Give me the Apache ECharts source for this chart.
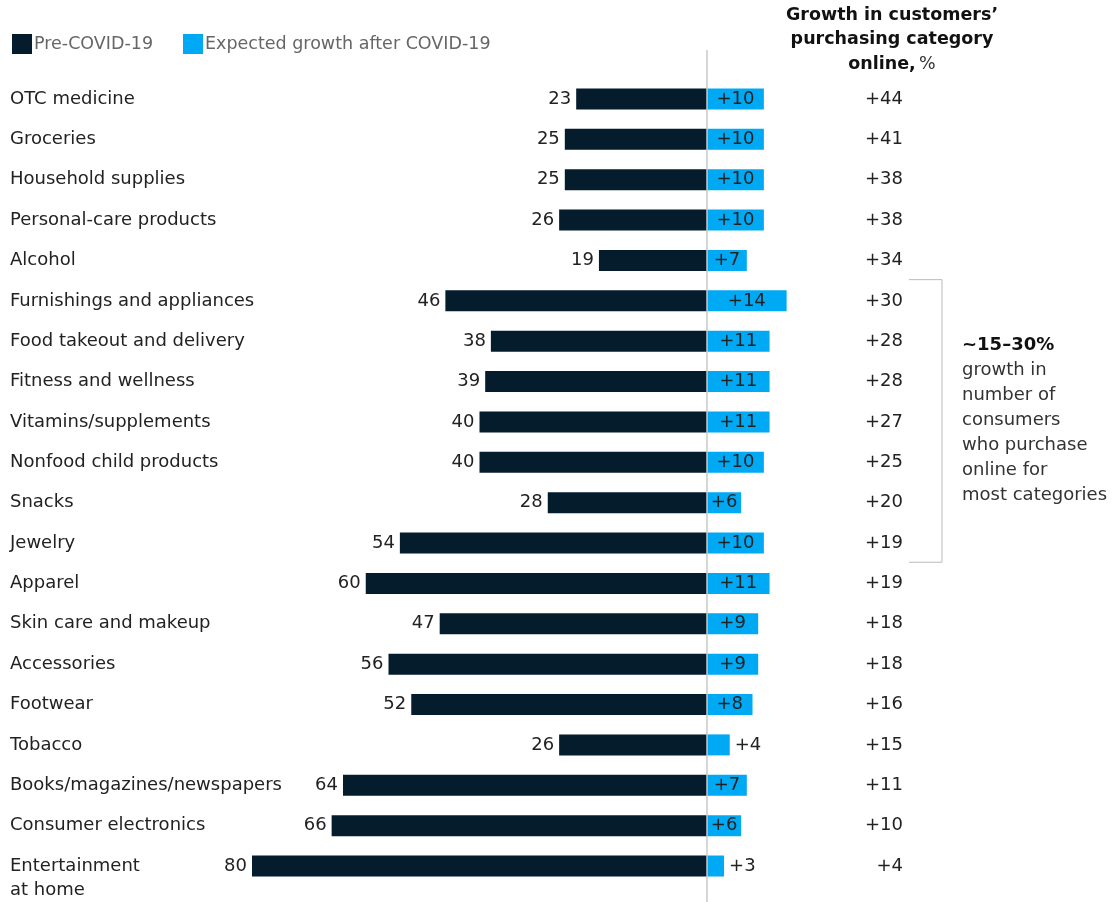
<!DOCTYPE html>
<html>
<head>
<meta charset="utf-8">
<script src="https://cdn.jsdelivr.net/npm/echarts@6/dist/echarts.min.js"></script>
<style>
  html, body { margin: 0; padding: 0; background: #fff; }
  #chart { width: 1119px; height: 902px; }
</style>
</head>
<body>
<div id="chart"></div>
<script>
// Share of customers buying each category online
const categories = [
  'OTC medicine', 'Groceries', 'Household supplies', 'Personal-care products',
  'Alcohol', 'Furnishings and appliances', 'Food takeout and delivery',
  'Fitness and wellness', 'Vitamins/supplements', 'Nonfood child products',
  'Snacks', 'Jewelry', 'Apparel', 'Skin care and makeup', 'Accessories',
  'Footwear', 'Tobacco', 'Books/magazines/newspapers', 'Consumer electronics',
  'Entertainment\nat home'
];
const preCovid = [23, 25, 25, 26, 19, 46, 38, 39, 40, 40, 28, 54, 60, 47, 56, 52, 26, 64, 66, 80];
const expectedGrowth = [10, 10, 10, 10, 7, 14, 11, 11, 11, 10, 6, 10, 11, 9, 9, 8, 4, 7, 6, 3];
const onlineGrowth = [44, 41, 38, 38, 34, 30, 28, 28, 27, 25, 20, 19, 19, 18, 18, 16, 15, 11, 10, 4];

const seriesNames = ['Pre-COVID-19', 'Expected growth after COVID-19'];
const bracketFrom = 'Furnishings and appliances';
const bracketTo = 'Jewelry';

const NAVY = '#051C2C';
const BLUE = '#00A9F4';
const FONT = '"DejaVu Sans", "Liberation Sans", Arial, sans-serif';
const TEXT = '#222';

const chart = echarts.init(document.getElementById('chart'), null, { renderer: 'canvas' });

const option = {
  animation: false,
  backgroundColor: '#fff',
  legend: {
    left: 7, top: 29,
    itemWidth: 20, itemHeight: 20, itemGap: 30,
    icon: 'rect',
    textStyle: { color: '#666', fontSize: 17.5, fontFamily: FONT, padding: [0, 0, 0, -3] },
    data: seriesNames
  },
  grid: {
    left: 252, top: 78.8, width: 637, height: 807.4,
    containLabel: false, outerBoundsMode: 'none'
  },
  xAxis: {
    type: 'value', min: -80, max: 32,
    show: false
  },
  yAxis: [
    {
      type: 'category', inverse: true, data: categories,
      axisLine: { show: false, onZero: false }, axisTick: { show: false },
      axisLabel: {
        interval: 0, hideOverlap: false,
        align: 'left', margin: 242, fontSize: 18, color: TEXT, fontFamily: FONT,
        lineHeight: 24,
        // two-line names keep their first line level with the bar
        formatter: v => v.indexOf('\n') >= 0 ? ' \n' + v : v
      }
    },
    {
      type: 'category', inverse: true, position: 'right', data: categories,
      axisLine: { show: false, onZero: false }, axisTick: { show: false },
      axisLabel: {
        interval: 0,
        align: 'right', margin: 14, fontSize: 18, color: TEXT, fontFamily: FONT,
        formatter: (v, i) => '+' + onlineGrowth[i]
      }
    }
  ],
  series: [
    {
      name: seriesNames[0], type: 'bar', barWidth: 21, barGap: '-100%',
      itemStyle: { color: NAVY },
      data: preCovid.map(v => -v),
      label: {
        show: true, position: 'left', distance: 5, fontSize: 18, color: TEXT,
        fontFamily: FONT, formatter: p => String(-p.value)
      }
    },
    {
      name: seriesNames[1], type: 'bar', barWidth: 21,
      itemStyle: { color: BLUE },
      data: expectedGrowth.map(v => ({
        value: v,
        label: v <= 4 ? { position: 'right', distance: 5 } : { position: 'inside' }
      })),
      label: {
        show: true, fontSize: 18, color: TEXT, fontFamily: FONT,
        formatter: p => '+' + p.value
      }
    }
  ]
};
chart.setOption(option);

// Overlay: centre axis line, column header, bracket and its note
const zeroX = chart.convertToPixel({ xAxisIndex: 0 }, 0);
const rowStep = chart.convertToPixel({ yAxisIndex: 0 }, categories[1]) -
                chart.convertToPixel({ yAxisIndex: 0 }, categories[0]);
const yFrom = chart.convertToPixel({ yAxisIndex: 0 }, bracketFrom) - rowStep / 2 - 1;
const yTo = chart.convertToPixel({ yAxisIndex: 0 }, bracketTo) + rowStep / 2 - 1;
const bx = 942, bLeft = 909;

chart.setOption({
  graphic: [
    {
      type: 'line', z: 10, silent: true,
      shape: { x1: zeroX, y1: 50, x2: zeroX, y2: 902 },
      style: { stroke: '#c8c8c8', lineWidth: 1.5 }
    },
    {
      type: 'text', silent: true,
      style: {
        x: 892, y: 3, align: 'center', verticalAlign: 'top',
        text: '{b|Growth in customers’}\n{b|purchasing category}\n{b|online,} {r|%}',
        rich: {
          b: { fontSize: 17.5, fontWeight: 'bold', fontFamily: FONT, fill: '#111', lineHeight: 24.5 },
          r: { fontSize: 17.5, fontFamily: FONT, fill: '#333', lineHeight: 24.5 }
        }
      }
    },
    {
      type: 'polyline', silent: true,
      shape: { points: [[bLeft, yFrom], [bx, yFrom], [bx, yTo], [bLeft, yTo]] },
      style: { stroke: '#bbb', lineWidth: 1, fill: null }
    },
    {
      type: 'text', silent: true,
      style: {
        x: 962, y: 333, align: 'left', verticalAlign: 'top',
        text: '{b|~15–30%}\n{r|growth in}\n{r|number of}\n{r|consumers}\n{r|who purchase}\n{r|online for}\n{r|most categories}',
        rich: {
          b: { fontSize: 18, fontWeight: 'bold', fontFamily: FONT, fill: '#111', lineHeight: 25 },
          r: { fontSize: 18, fontFamily: FONT, fill: '#333', lineHeight: 25 }
        }
      }
    }
  ]
});
</script>
</body>
</html>
